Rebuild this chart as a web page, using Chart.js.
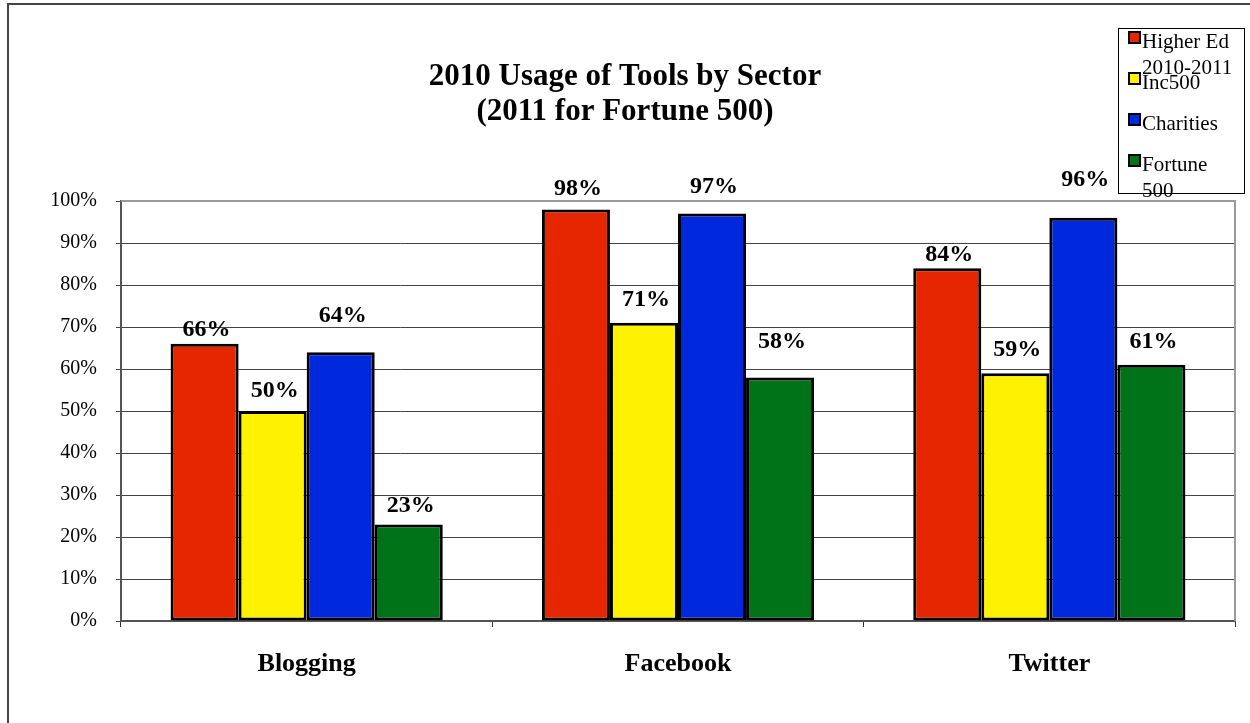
<!DOCTYPE html>
<html>
<head>
<meta charset="utf-8">
<title>2010 Usage of Tools by Sector</title>
<script src="https://cdn.jsdelivr.net/npm/chart.js@4/dist/chart.umd.min.js"></script>
<style>
  body { margin: 0; background: #fff; }
  canvas { display: block; }
</style>
</head>
<body>
<canvas id="chart" width="1250" height="723"></canvas>
<script>
// data
const categories = ['Blogging', 'Facebook', 'Twitter'];
const higherEd = [66, 98, 84];
const inc500 = [50, 71, 59];
const charities = [64, 97, 96];
const fortune500 = [23, 58, 61];
const seriesNames = [['Higher Ed', '2010-2011'], ['Inc500'], ['Charities'], ['Fortune', '500']];
const titleLines = ['2010 Usage of Tools by Sector', '(2011 for Fortune 500)'];

const serif = "'Liberation Serif', 'Times New Roman', serif";
const colors = ['#e52600', '#fff200', '#0029dd', '#007318'];
// how far each value label baseline sits above its bar (px), per series
const labelLift = [[8, 14, 7], [14, 17, 17], [30, 21, 32], [12, 29, 17]];

// frame, plot border, title, value labels, legend
const decorations = {
  id: 'decorations',
  beforeDraw(chart) {
    const ctx = chart.ctx;
    ctx.save();
    ctx.fillStyle = '#fff';
    ctx.fillRect(0, 0, chart.width, chart.height);
    ctx.restore();
  },
  afterDatasetsDraw(chart) {
    const ctx = chart.ctx;
    const area = chart.chartArea;
    ctx.save();

    // outer frame (left + top)
    ctx.strokeStyle = '#444';
    ctx.lineWidth = 2;
    ctx.beginPath();
    ctx.moveTo(8, chart.height);
    ctx.lineTo(8, 4);
    ctx.lineTo(chart.width, 4);
    ctx.stroke();

    // plot border top + right
    ctx.strokeStyle = '#999';
    ctx.lineWidth = 2;
    ctx.beginPath();
    ctx.moveTo(area.left, area.top);
    ctx.lineTo(area.right, area.top);
    ctx.lineTo(area.right, area.bottom);
    ctx.stroke();

    // title
    ctx.fillStyle = '#000';
    ctx.font = 'bold 31px ' + serif;
    ctx.textAlign = 'center';
    ctx.textBaseline = 'alphabetic';
    ctx.fillText(titleLines[0], 625, 85);
    ctx.fillText(titleLines[1], 625, 120);

    // value labels
    ctx.font = 'bold 24px ' + serif;
    chart.data.datasets.forEach((ds, i) => {
      chart.getDatasetMeta(i).data.forEach((bar, j) => {
        ctx.fillText(ds.data[j] + '%', bar.x + 2, bar.y - labelLift[i][j]);
      });
    });

    // legend
    ctx.strokeStyle = '#000';
    ctx.lineWidth = 1;
    ctx.strokeRect(1118.5, 28.5, 126, 165);
    ctx.textAlign = 'left';
    ctx.font = '21px ' + serif;
    chart.data.datasets.forEach((ds, i) => {
      const top = 32 + i * 41;
      ctx.fillStyle = ds.backgroundColor;
      ctx.fillRect(1129, top, 11, 11);
      ctx.lineWidth = 2;
      ctx.strokeRect(1129, top, 11, 11);
      ctx.fillStyle = '#000';
      seriesNames[i].forEach((line, k) => {
        ctx.fillText(line, 1142, top + 16 + k * 26);
      });
    });
    ctx.restore();
  }
};

const ds = [higherEd, inc500, charities, fortune500].map((values, i) => ({
  label: seriesNames[i].join(' '),
  data: values,
  backgroundColor: colors[i],
  borderColor: '#000',
  borderWidth: 3,
  borderSkipped: false
}));

new Chart(document.getElementById('chart'), {
  type: 'bar',
  data: { labels: categories, datasets: ds },
  options: {
    responsive: false,
    animation: false,
    layout: { padding: { left: 0, right: 15, top: 201, bottom: 0 } },
    datasets: { bar: { categoryPercentage: 0.733, barPercentage: 1 } },
    plugins: {
      legend: { display: false },
      title: { display: false },
      tooltip: { enabled: false }
    },
    scales: {
      x: {
        afterFit(scale) { scale.height = 102; },
        grid: { drawOnChartArea: false, drawTicks: true, tickLength: 6, color: '#333', lineWidth: 1 },
        border: { color: '#555', width: 2 },
        ticks: { color: '#000', font: { family: serif, size: 26, weight: 'bold' }, padding: 22 }
      },
      y: {
        min: 0,
        max: 100,
        afterFit(scale) { scale.width = 121; },
        grid: { color: '#444', lineWidth: 1, tickLength: 5 },
        border: { color: '#555', width: 2 },
        ticks: {
          stepSize: 10,
          color: '#000',
          padding: 19,
          font: { family: serif, size: 20 },
          callback: v => v + '%'
        }
      }
    }
  },
  plugins: [decorations]
});
</script>
</body>
</html>
